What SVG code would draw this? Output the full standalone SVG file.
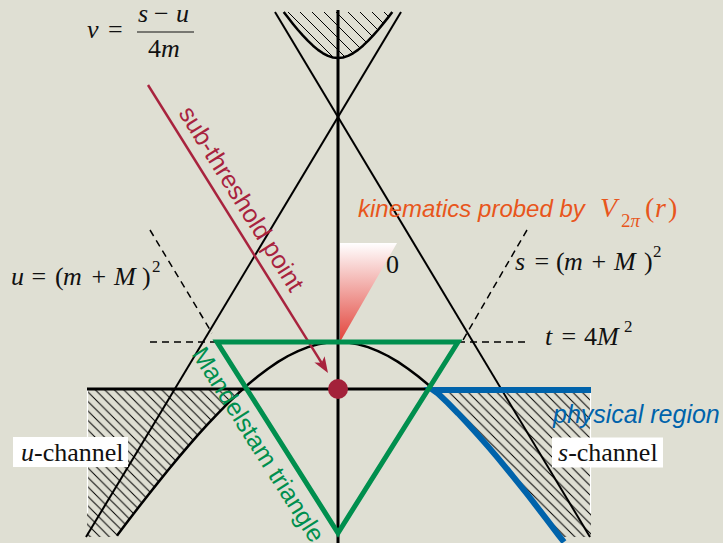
<svg xmlns="http://www.w3.org/2000/svg" width="723" height="543" viewBox="0 0 723 543">
<style>
.ax{stroke:#000;stroke-width:3;fill:none}
.ln{stroke:#000;stroke-width:2;fill:none}
.hyp{stroke:#000;stroke-width:2.5;fill:none;stroke-linejoin:round}
.dash{stroke:#000;stroke-width:1.5;stroke-dasharray:7 5;fill:none}
.math{font-family:"Liberation Serif","Times New Roman",serif;font-size:26px;fill:#111}
.it{font-style:italic}
.sans{font-family:"Liberation Sans",Arial,sans-serif}
.box{fill:#fff}
</style>
<defs>
<pattern id="hatch" patternUnits="userSpaceOnUse" width="9.5" height="9.5">
<path d="M-1,-1 L10.5,10.5 M-1,8.5 L1,10.5 M8.5,-1 L10.5,1" stroke="#000" stroke-width="1"/>
</pattern>
<pattern id="hatchTop" patternUnits="userSpaceOnUse" width="12" height="12">
<path d="M-1,-1 L13,13 M-1,11 L1,13 M11,-1 L13,1" stroke="#000" stroke-width="1"/>
</pattern>
<linearGradient id="kin" x1="0" y1="0" x2="0" y2="1">
<stop offset="0" stop-color="#ffffff"/>
<stop offset="1" stop-color="#e2433a"/>
</linearGradient>
</defs>
<rect width="723" height="543" fill="#dfdfd3"/>

<g id="regions">
<path d="M87,389 L240,389 L238,393.57 L228,403.16 L218,413.28 L208,423.9 L198,434.94 L188,446.37 L178,458.15 L168,470.24 L158,482.6 L148,495.22 L138,508.06 L128,521.1 L118,534.33 L116,537 L87,537 Z" fill="url(#hatch)"/>
<path d="M434,390 L591,390 L591,537 L560,537 L558,534.33 L548,521.1 L538,508.06 L528,495.22 L518,482.6 L508,470.24 L498,458.15 L488,446.37 L478,434.94 L468,423.9 L458,413.28 L448,403.16 L438,393.57 Z" fill="url(#hatch)"/>
<path d="M283.7,12 L288,17.6 L293,23.91 L298,29.95 L303,35.66 L308,40.94 L313,45.72 L318,49.88 L323,53.3 L328,55.87 L333,57.46 L338,58 L343,57.46 L348,55.87 L353,53.3 L358,49.88 L363,45.72 L368,40.94 L373,35.66 L378,29.95 L383,23.91 L388,17.6 L392.3,12 Z" fill="url(#hatchTop)"/>
<line x1="87.5" y1="388" x2="87.5" y2="513" stroke="#fff" stroke-width="1.2"/>
<line x1="590.5" y1="393" x2="590.5" y2="513" stroke="#fff" stroke-width="1.2"/>
</g>

<g id="kinematics-wedge">
<polygon points="340,243 397,243 340,342" fill="url(#kin)"/>
</g>

<g id="connectors">
<line class="ln" x1="275" y1="12" x2="590" y2="537"/>
<line class="ln" x1="401" y1="12" x2="86" y2="537"/>
<line class="ax" x1="338" y1="10" x2="338" y2="543"/>
<line class="ax" x1="87" y1="389" x2="434" y2="389"/>
<path class="hyp" d="M283.7,12 L288,17.6 L293,23.91 L298,29.95 L303,35.66 L308,40.94 L313,45.72 L318,49.88 L323,53.3 L328,55.87 L333,57.46 L338,58 L343,57.46 L348,55.87 L353,53.3 L358,49.88 L363,45.72 L368,40.94 L373,35.66 L378,29.95 L383,23.91 L388,17.6 L392.3,12"/>
<path class="hyp" d="M117,535.7 L118,534.33 L128,521.1 L138,508.06 L148,495.22 L158,482.6 L168,470.24 L178,458.15 L188,446.37 L198,434.94 L208,423.9 L218,413.28 L228,403.16 L238,393.57 L248,384.58 L258,376.26 L268,368.67 L278,361.9 L288,356 L298,351.07 L308,347.15 L318,344.3 L328,342.58 L338,342 L348,342.58 L358,344.3 L368,347.15 L378,351.07 L388,356 L398,361.9 L408,368.67 L418,376.26 L428,384.58 L438,393.57 L448,403.16 L458,413.28 L468,423.9 L478,434.94 L488,446.37 L498,458.15 L508,470.24 L518,482.6 L528,495.22 L538,508.06 L548,521.1 L558,534.33 L559,535.7"/>
<line class="dash" x1="150" y1="342" x2="217" y2="342"/>
<line class="dash" x1="458" y1="342" x2="527" y2="342"/>
<line class="dash" x1="150" y1="230" x2="212" y2="333"/>
<line class="dash" x1="527" y1="230" x2="463" y2="340"/>
<path d="M591,390 L433,390 L438,393.57 L448,403.16 L458,413.28 L468,423.9 L478,434.94 L488,446.37 L498,458.15 L508,470.24 L518,482.6 L528,495.22 L538,508.06 L548,521.1 L558,534.33 L564,542" fill="none" stroke="#0063ab" stroke-width="6"/>
<line x1="148" y1="85" x2="321.6" y2="362.8" stroke="#a8233e" stroke-width="2.5"/>
<polygon points="328,373 324.6,356.2 321.6,362.8 314.4,362.6" fill="#a8233e"/>
</g>

<g id="mandelstam-triangle">
<polygon points="217,342 458,342 338,533" fill="none" stroke="#008f4e" stroke-width="5" stroke-linejoin="miter"/>
<text class="sans" font-size="25" fill="#008f4e" transform="translate(191,354) rotate(57.65)">Mandelstam triangle</text>
</g>

<g id="sub-threshold-point">
<circle cx="338" cy="389" r="10" fill="#a3213a"/>
<text class="sans" font-size="25" fill="#a8233e" transform="translate(178,113) rotate(58)">sub-threshold point</text>
</g>

<g id="nu-label">
<text class="math it" x="87" y="38">ν</text>
<text class="math" x="108" y="38">=</text>
<text class="math it" x="138" y="22">s</text>
<text class="math" x="154" y="22">−</text>
<text class="math it" x="176" y="22">u</text>
<line x1="137" y1="32" x2="194" y2="32" stroke="#111" stroke-width="1.2"/>
<text class="math" x="148" y="57">4<tspan class="it" x="161">m</tspan></text>
</g>

<g id="u-label">
<text class="math" y="285"><tspan class="it" x="11">u</tspan><tspan x="31.5">=</tspan><tspan x="55">(</tspan><tspan class="it" x="63">m</tspan><tspan x="91.5">+</tspan><tspan class="it" x="114">M</tspan><tspan x="142">)</tspan><tspan x="152" y="272" font-size="17">2</tspan></text>
</g>

<g id="s-label">
<text class="math" y="270"><tspan class="it" x="515">s</tspan><tspan x="534.5">=</tspan><tspan x="556">(</tspan><tspan class="it" x="564">m</tspan><tspan x="591.5">+</tspan><tspan class="it" x="614">M</tspan><tspan x="644">)</tspan><tspan x="653" y="257" font-size="17">2</tspan></text>
</g>

<g id="t-label">
<text class="math" y="345"><tspan class="it" x="545">t</tspan><tspan x="561.5">=</tspan><tspan x="584">4</tspan><tspan class="it" x="597">M</tspan><tspan x="624" y="332" font-size="17">2</tspan></text>
</g>

<g id="zero-label">
<text class="math" x="386" y="273">0</text>
</g>

<g id="kinematics-label">
<text class="sans" x="358" y="217" font-size="24" font-style="italic" fill="#e8561c">kinematics probed by</text>
<text font-family="Liberation Serif, Times New Roman, serif" fill="#e8561c" y="217"><tspan x="600" font-size="28" font-style="italic">V</tspan><tspan x="621" y="227" font-size="19">2<tspan font-style="italic">π</tspan></tspan><tspan x="645" y="217" font-size="28">(</tspan><tspan x="655" y="217" font-size="28" font-style="italic">r</tspan><tspan x="668" y="217" font-size="28">)</tspan></text>
</g>

<g id="physical-region">
<text class="sans" x="553" y="423" font-size="25" font-style="italic" fill="#0063ab">physical region</text>
</g>

<g id="u-channel">
<rect class="box" x="13" y="437" width="115" height="30"/>
<text class="math" x="21" y="461" font-size="27"><tspan class="it">u</tspan>-channel</text>
</g>

<g id="s-channel">
<rect class="box" x="552" y="437.5" width="111" height="30"/>
<text class="math" x="558" y="461" font-size="27"><tspan class="it">s</tspan>-channel</text>
</g>
</svg>
